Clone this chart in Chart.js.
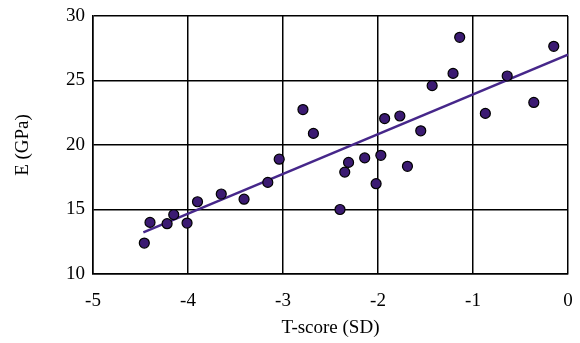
<!DOCTYPE html>
<html>
<head>
<meta charset="utf-8">
<script src="https://cdn.jsdelivr.net/npm/chart.js@4"></script>
<style>
  body { margin: 0; background: #fff; }
  #wrap { width: 580px; height: 343px; }
</style>
</head>
<body>
<div id="wrap"><canvas id="myChart" width="580" height="343"></canvas></div>
<script>
// measured values
var tScore = [-4.46, -4.40, -4.22, -4.15, -4.01, -3.90, -3.65, -3.41, -3.16, -3.04,
              -2.79, -2.68, -2.40, -2.35, -2.31, -2.14, -2.02, -1.97, -1.93, -1.77,
              -1.69, -1.55, -1.43, -1.21, -1.14, -0.87, -0.64, -0.36, -0.15];
var modulus = [12.4, 14.0, 13.9, 14.6, 13.95, 15.6, 16.2, 15.8, 17.1, 18.9,
               22.75, 20.9, 15.0, 17.9, 18.65, 19.0, 17.0, 19.2, 22.05, 22.25,
               18.35, 21.1, 24.6, 25.55, 28.35, 22.45, 25.35, 23.3, 27.65];
var fitX = [-4.47, 0];
var fitY = [13.23, 27.0];

var font = 'Liberation Serif, Times New Roman, serif';
var points = tScore.map(function(x, i) { return { x: x, y: modulus[i] }; });
var fitLine = fitX.map(function(x, i) { return { x: x, y: fitY[i] }; });

var ctx = document.getElementById('myChart');
var chart = new Chart(ctx, {
    type: 'scatter',
    data: {
        datasets: [
            {
                type: 'line',
                data: fitLine,
                borderColor: '#46278a',
                borderWidth: 2.5,
                pointRadius: 0,
                fill: false,
                order: 2
            },
            {
                data: points,
                backgroundColor: '#3b1a72',
                borderColor: '#000000',
                borderWidth: 1.2,
                pointRadius: 5,
                order: 1
            }
        ]
    },
    options: {
        responsive: false,
        animation: false,
        layout: { padding: { top: 16, right: 12, left: 0, bottom: 0 } },
        plugins: {
            legend: { display: false },
            tooltip: { enabled: false }
        },
        scales: {
            x: {
                type: 'linear',
                min: -5,
                max: 0,
                afterFit: function(scale) {
                    scale.height = 69;
                    scale.paddingLeft = 0;
                    scale.paddingRight = 0;
                },
                ticks: {
                    stepSize: 1,
                    color: '#000',
                    padding: 16,
                    font: { family: font, size: 19 }
                },
                grid: { color: '#000', lineWidth: 1.5, drawTicks: false },
                border: { color: '#000', width: 1.5 },
                title: {
                    display: true,
                    text: 'T-score (SD)',
                    color: '#000',
                    padding: { top: 0, bottom: 4 },
                    font: { family: font, size: 19 }
                }
            },
            y: {
                min: 10,
                max: 30,
                afterFit: function(scale) {
                    scale.width = 93;
                    scale.paddingTop = 0;
                    scale.paddingBottom = 0;
                },
                ticks: {
                    stepSize: 5,
                    color: '#000',
                    padding: 8,
                    font: { family: font, size: 19 }
                },
                grid: { color: '#000', lineWidth: 1.5, drawTicks: false },
                border: { color: '#000', width: 1.5 },
                title: {
                    display: true,
                    text: 'E (GPa)',
                    color: '#000',
                    padding: { top: 12, bottom: 0 },
                    font: { family: font, size: 19 }
                }
            }
        }
    }
});
</script>
</body>
</html>
